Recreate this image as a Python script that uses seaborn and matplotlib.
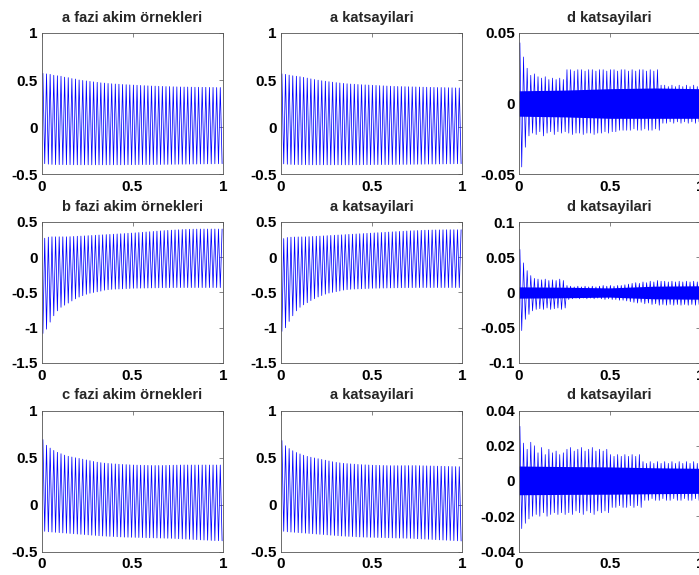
import numpy as np
import pandas as pd
import matplotlib
matplotlib.use("Agg")
import matplotlib.pyplot as plt
import seaborn as sns
from matplotlib.ticker import FixedLocator, FixedFormatter

sns.set_style("white")
plt.rcParams['font.family'] = ['Liberation Sans', 'DejaVu Sans']
plt.rcParams['font.weight'] = 'bold'
plt.rcParams['axes.unicode_minus'] = False

# ---------------- titles ----------------
titles = [["a fazi akim örnekleri", "a katsayilari", "d katsayilari"],
          ["b fazi akim örnekleri", "a katsayilari", "d katsayilari"],
          ["c fazi akim örnekleri", "a katsayilari", "d katsayilari"]]

# ---------------- per-cycle peak values (50 cycles over 1 s) ----------------
a_fazi_upper = [0.570, 0.565, 0.560, 0.550, 0.545, 0.540, 0.530, 0.525, 0.515, 0.510,
                0.500, 0.495, 0.490, 0.485, 0.480, 0.475, 0.470, 0.467, 0.463, 0.460,
                0.457, 0.455, 0.452, 0.450, 0.448, 0.446, 0.444, 0.442, 0.440, 0.438,
                0.436, 0.435, 0.433, 0.432, 0.430, 0.430, 0.428, 0.427, 0.426, 0.425,
                0.425, 0.424, 0.423, 0.423, 0.422, 0.422, 0.421, 0.421, 0.420, 0.420]
a_fazi_lower = [-0.390, -0.395, -0.398, -0.400, -0.400, -0.400, -0.401, -0.401, -0.402, -0.402,
                -0.402, -0.402, -0.402, -0.402, -0.402, -0.402, -0.402, -0.402, -0.402, -0.402,
                -0.402, -0.402, -0.402, -0.401, -0.401, -0.401, -0.400, -0.400, -0.400, -0.400,
                -0.400, -0.399, -0.399, -0.398, -0.398, -0.397, -0.397, -0.396, -0.396, -0.395,
                -0.395, -0.394, -0.394, -0.393, -0.393, -0.392, -0.392, -0.391, -0.391, -0.390]

a_kats_upper = [0.565, 0.560, 0.552, 0.545, 0.540, 0.535, 0.528, 0.520, 0.512, 0.505,
                0.498, 0.492, 0.487, 0.482, 0.477, 0.472, 0.468, 0.464, 0.460, 0.457,
                0.455, 0.452, 0.450, 0.448, 0.446, 0.444, 0.442, 0.440, 0.438, 0.436,
                0.434, 0.432, 0.431, 0.430, 0.429, 0.428, 0.427, 0.426, 0.425, 0.424,
                0.423, 0.422, 0.421, 0.420, 0.420, 0.419, 0.418, 0.417, 0.416, 0.415]
a_kats_lower = [-0.392, -0.396, -0.398, -0.400, -0.400, -0.401, -0.401, -0.402, -0.402, -0.402,
                -0.402, -0.402, -0.402, -0.402, -0.402, -0.402, -0.402, -0.402, -0.402, -0.402,
                -0.402, -0.402, -0.401, -0.401, -0.401, -0.400, -0.400, -0.400, -0.400, -0.400,
                -0.399, -0.399, -0.398, -0.398, -0.398, -0.397, -0.397, -0.396, -0.396, -0.395,
                -0.395, -0.394, -0.394, -0.393, -0.393, -0.392, -0.392, -0.391, -0.391, -0.390]

b_fazi_lower = [-1.080, -1.020, -0.920, -0.830, -0.760, -0.710, -0.680, -0.650, -0.620, -0.590,
                -0.565, -0.545, -0.525, -0.510, -0.500, -0.490, -0.480, -0.467, -0.460, -0.455,
                -0.452, -0.450, -0.448, -0.445, -0.443, -0.440, -0.439, -0.438, -0.437, -0.436,
                -0.435, -0.434, -0.433, -0.432, -0.432, -0.431, -0.431, -0.430, -0.430, -0.430,
                -0.430, -0.430, -0.430, -0.430, -0.430, -0.430, -0.430, -0.430, -0.430, -0.430]
b_fazi_upper = [0.270, 0.285, 0.290, 0.290, 0.290, 0.290, 0.290, 0.292, 0.295, 0.298,
                0.300, 0.303, 0.306, 0.309, 0.312, 0.315, 0.318, 0.321, 0.324, 0.327,
                0.330, 0.333, 0.336, 0.340, 0.343, 0.346, 0.350, 0.354, 0.358, 0.362,
                0.366, 0.370, 0.374, 0.378, 0.381, 0.384, 0.387, 0.390, 0.393, 0.395,
                0.397, 0.398, 0.399, 0.400, 0.400, 0.400, 0.400, 0.400, 0.400, 0.400]

b_kats_lower = [-1.050, -1.000, -0.910, -0.830, -0.760, -0.710, -0.675, -0.645, -0.615, -0.588,
                -0.563, -0.543, -0.523, -0.508, -0.498, -0.488, -0.478, -0.466, -0.459, -0.454,
                -0.451, -0.449, -0.447, -0.445, -0.443, -0.440, -0.439, -0.438, -0.437, -0.436,
                -0.435, -0.434, -0.433, -0.432, -0.432, -0.431, -0.431, -0.430, -0.430, -0.430,
                -0.430, -0.430, -0.430, -0.430, -0.430, -0.430, -0.430, -0.430, -0.430, -0.430]
b_kats_upper = [0.265, 0.280, 0.285, 0.287, 0.288, 0.289, 0.290, 0.292, 0.295, 0.298,
                0.300, 0.303, 0.306, 0.309, 0.312, 0.315, 0.318, 0.321, 0.324, 0.327,
                0.330, 0.333, 0.336, 0.339, 0.342, 0.345, 0.348, 0.351, 0.354, 0.357,
                0.360, 0.363, 0.366, 0.369, 0.372, 0.375, 0.377, 0.379, 0.381, 0.383,
                0.385, 0.386, 0.387, 0.388, 0.389, 0.390, 0.390, 0.390, 0.390, 0.390]

c_fazi_upper = [0.690, 0.630, 0.600, 0.575, 0.555, 0.540, 0.525, 0.513, 0.505, 0.497,
                0.490, 0.482, 0.474, 0.466, 0.458, 0.450, 0.445, 0.440, 0.437, 0.434,
                0.431, 0.428, 0.426, 0.424, 0.422, 0.420, 0.419, 0.418, 0.417, 0.416,
                0.415, 0.415, 0.415, 0.415, 0.416, 0.417, 0.418, 0.419, 0.420, 0.420,
                0.420, 0.420, 0.420, 0.420, 0.420, 0.420, 0.420, 0.420, 0.420, 0.420]
c_fazi_lower = [-0.285, -0.290, -0.293, -0.296, -0.299, -0.302, -0.305, -0.308, -0.311, -0.314,
                -0.317, -0.320, -0.323, -0.326, -0.329, -0.332, -0.335, -0.337, -0.339, -0.341,
                -0.343, -0.345, -0.347, -0.348, -0.349, -0.350, -0.351, -0.352, -0.353, -0.354,
                -0.355, -0.356, -0.357, -0.358, -0.359, -0.360, -0.362, -0.364, -0.366, -0.368,
                -0.370, -0.372, -0.374, -0.376, -0.378, -0.380, -0.382, -0.384, -0.385, -0.386]

c_kats_upper = [0.680, 0.625, 0.595, 0.572, 0.553, 0.538, 0.524, 0.512, 0.503, 0.495,
                0.487, 0.479, 0.471, 0.463, 0.455, 0.448, 0.443, 0.438, 0.435, 0.432,
                0.429, 0.426, 0.424, 0.422, 0.420, 0.418, 0.417, 0.416, 0.415, 0.414,
                0.413, 0.413, 0.413, 0.413, 0.414, 0.414, 0.414, 0.414, 0.413, 0.412,
                0.411, 0.410, 0.409, 0.408, 0.407, 0.406, 0.405, 0.404, 0.403, 0.402]
c_kats_lower = [-0.285, -0.290, -0.293, -0.296, -0.299, -0.302, -0.305, -0.308, -0.311, -0.314,
                -0.317, -0.320, -0.323, -0.326, -0.329, -0.332, -0.335, -0.337, -0.339, -0.341,
                -0.343, -0.345, -0.347, -0.348, -0.349, -0.350, -0.351, -0.352, -0.353, -0.354,
                -0.355, -0.356, -0.357, -0.358, -0.359, -0.360, -0.362, -0.364, -0.366, -0.368,
                -0.370, -0.372, -0.374, -0.376, -0.378, -0.380, -0.382, -0.384, -0.386, -0.388]

# detail coefficient spikes (one up and one down spike per cycle)
d1_up = [0.043, 0.033, 0.025, 0.020, 0.021, 0.019, 0.018, 0.019, 0.017, 0.018,
         0.017, 0.018, 0.017, 0.024, 0.024, 0.023, 0.024, 0.024, 0.023, 0.024,
         0.024, 0.023, 0.024, 0.024, 0.023, 0.024, 0.024, 0.023, 0.024, 0.024,
         0.023, 0.024, 0.023, 0.024, 0.024, 0.023, 0.024, 0.023, 0.024, 0.013,
         0.013, 0.012, 0.013, 0.012, 0.013, 0.012, 0.013, 0.012, 0.013, 0.012]
d1_down = [-0.045, -0.031, -0.023, -0.021, -0.022, -0.020, -0.023, -0.021, -0.020, -0.022,
           -0.020, -0.021, -0.020, -0.021, -0.022, -0.021, -0.021, -0.022, -0.021, -0.021,
           -0.022, -0.021, -0.021, -0.020, -0.021, -0.020, -0.020, -0.019, -0.019, -0.019,
           -0.019, -0.018, -0.019, -0.019, -0.018, -0.019, -0.019, -0.018, -0.019, -0.014,
           -0.014, -0.013, -0.014, -0.013, -0.014, -0.013, -0.014, -0.013, -0.014, -0.013]
d2_up = [0.061, 0.042, 0.031, 0.024, 0.020, 0.019, 0.018, 0.019, 0.017, 0.018,
         0.017, 0.019, 0.017, 0.010, 0.009, 0.008, 0.009, 0.008, 0.009, 0.008,
         0.009, 0.008, 0.009, 0.010, 0.009, 0.010, 0.009, 0.010, 0.010, 0.011,
         0.012, 0.013, 0.014, 0.013, 0.015, 0.014, 0.016, 0.015, 0.017, 0.016,
         0.016, 0.015, 0.016, 0.015, 0.016, 0.015, 0.016, 0.015, 0.016, 0.015]
d2_down = [-0.054, -0.038, -0.031, -0.026, -0.024, -0.023, -0.024, -0.022, -0.024, -0.023,
           -0.022, -0.024, -0.022, -0.010, -0.009, -0.008, -0.009, -0.008, -0.009, -0.008,
           -0.009, -0.008, -0.009, -0.010, -0.009, -0.010, -0.010, -0.011, -0.011, -0.012,
           -0.013, -0.014, -0.015, -0.014, -0.016, -0.015, -0.017, -0.016, -0.018, -0.017,
           -0.018, -0.017, -0.018, -0.017, -0.018, -0.017, -0.018, -0.017, -0.018, -0.017]
d3_up = [0.031, 0.0215, 0.018, 0.022, 0.020, 0.016, 0.019, 0.015, 0.018, 0.016,
         0.017, 0.015, 0.016, 0.018, 0.019, 0.017, 0.018, 0.019, 0.017, 0.018,
         0.019, 0.017, 0.018, 0.017, 0.018, 0.015, 0.014, 0.015, 0.014, 0.015,
         0.014, 0.015, 0.014, 0.015, 0.011, 0.010, 0.011, 0.010, 0.011, 0.010,
         0.011, 0.010, 0.011, 0.010, 0.011, 0.010, 0.011, 0.010, 0.011, 0.010]
d3_down = [-0.027, -0.024, -0.0215, -0.020, -0.019, -0.020, -0.018, -0.020, -0.019, -0.018,
           -0.019, -0.018, -0.019, -0.018, -0.019, -0.017, -0.018, -0.019, -0.017, -0.018,
           -0.019, -0.017, -0.018, -0.017, -0.018, -0.015, -0.015, -0.014, -0.015, -0.015,
           -0.014, -0.015, -0.014, -0.015, -0.011, -0.011, -0.010, -0.011, -0.011, -0.010,
           -0.011, -0.011, -0.010, -0.011, -0.011, -0.010, -0.011, -0.011, -0.010, -0.011]

# dense small-amplitude band of the detail coefficients
band_t = [0.0, 0.25, 0.5, 0.75, 1.0]
d1_band_hi = [0.0090, 0.0095, 0.0105, 0.0110, 0.0105]
d1_band_lo = [-0.0090, -0.0095, -0.0105, -0.0105, -0.0105]
d2_band_hi = [0.0080, 0.0075, 0.0065, 0.0090, 0.0095]
d2_band_lo = [-0.0080, -0.0075, -0.0065, -0.0090, -0.0095]
d3_band_hi = [0.0085, 0.0082, 0.0080, 0.0075, 0.0072]
d3_band_lo = [-0.0078, -0.0076, -0.0075, -0.0072, -0.0070]

# ---------------- axes ticks ----------------
x_ticks = [0, 0.5, 1]
x_tick_labels = ["0", "0.5", "1"]
y_ticks_row1 = [-0.5, 0, 0.5, 1]
y_labels_row1 = ["-0.5", "0", "0.5", "1"]
y_ticks_row2 = [-1.5, -1, -0.5, 0, 0.5]
y_labels_row2 = ["-1.5", "-1", "-0.5", "0", "0.5"]
y_ticks_row3 = [-0.5, 0, 0.5, 1]
y_labels_row3 = ["-0.5", "0", "0.5", "1"]
y_ticks_d1 = [-0.05, 0, 0.05]
y_labels_d1 = ["-0.05", "0", "0.05"]
y_ticks_d2 = [-0.1, -0.05, 0, 0.05, 0.1]
y_labels_d2 = ["-0.1", "-0.05", "0", "0.05", "0.1"]
y_ticks_d3 = [-0.04, -0.02, 0, 0.02, 0.04]
y_labels_d3 = ["-0.04", "-0.02", "0", "0.02", "0.04"]

LINE = "#0000ff"

def zigzag(first, second):
    n = len(first)
    y = np.empty(2 * n)
    y[0::2] = first
    y[1::2] = second
    t = (np.arange(2 * n) + 0.5) / (2 * n)
    return pd.DataFrame({"t": t, "v": y})

W, H = 699, 575
fig = plt.figure(figsize=(W / 100, H / 100), dpi=100)
col_left = [42, 281, 519]
row_top = [33, 222, 410.5]
aw, ah = 181, 141

panels = [
    [("sig", a_fazi_upper, a_fazi_lower), ("sig", a_kats_upper, a_kats_lower),
     ("d", d1_up, d1_down, d1_band_hi, d1_band_lo)],
    [("sig", b_fazi_lower, b_fazi_upper), ("sig", b_kats_lower, b_kats_upper),
     ("d", d2_up, d2_down, d2_band_hi, d2_band_lo)],
    [("sig", c_fazi_upper, c_fazi_lower), ("sig", c_kats_upper, c_kats_lower),
     ("d", d3_up, d3_down, d3_band_hi, d3_band_lo)],
]
yinfo = [
    [(y_ticks_row1, y_labels_row1), (y_ticks_row1, y_labels_row1), (y_ticks_d1, y_labels_d1)],
    [(y_ticks_row2, y_labels_row2), (y_ticks_row2, y_labels_row2), (y_ticks_d2, y_labels_d2)],
    [(y_ticks_row3, y_labels_row3), (y_ticks_row3, y_labels_row3), (y_ticks_d3, y_labels_d3)],
]

for r in range(3):
    for c in range(3):
        ax = fig.add_axes([col_left[c] / W, (H - row_top[r] - ah) / H, aw / W, ah / H])
        p = panels[r][c]
        if p[0] == "sig":
            df = zigzag(p[1], p[2])
            sns.lineplot(data=df, x="t", y="v", ax=ax, color=LINE, lw=0.55,
                         estimator=None, sort=False)
        else:
            ax.fill_between(band_t, p[4], p[3], color=LINE, lw=0)
            df = zigzag(p[1], p[2])
            sns.lineplot(data=df, x="t", y="v", ax=ax, color=LINE, lw=0.5,
                         estimator=None, sort=False)
        yt, yl = yinfo[r][c]
        ax.set_xlim(0, 1)
        ax.set_ylim(yt[0], yt[-1])
        ax.xaxis.set_major_locator(FixedLocator(x_ticks))
        ax.xaxis.set_major_formatter(FixedFormatter(x_tick_labels))
        ax.yaxis.set_major_locator(FixedLocator(yt))
        ax.yaxis.set_major_formatter(FixedFormatter(yl))
        ax.set_xlabel("")
        ax.set_ylabel("")
        ax.tick_params(direction="in", length=3, width=0.5, top=True, right=True,
                       labelsize=11, colors="#555555", labelcolor="black")
        ax.tick_params(axis="x", pad=4)
        ax.tick_params(axis="y", pad=3)
        for lab in ax.get_xticklabels() + ax.get_yticklabels():
            lab.set_fontweight("bold")
        for s in ax.spines.values():
            s.set_visible(True)
            s.set_linewidth(0.6)
            s.set_color("#555555")
        ax.set_title(titles[r][c], fontsize=10.5, fontweight="bold", pad=8)

fig.savefig("out.png", dpi=100)
